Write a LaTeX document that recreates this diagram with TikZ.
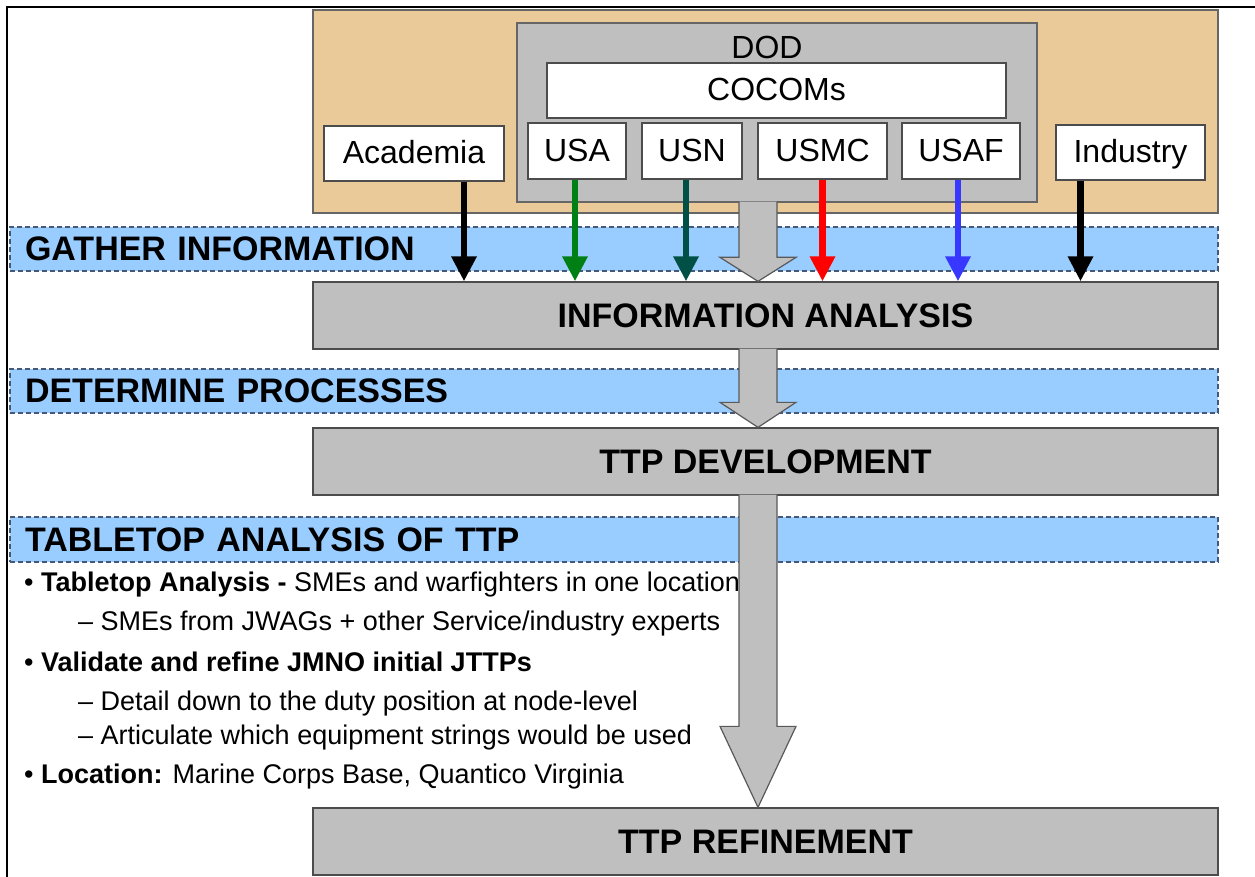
\documentclass[tikz,border=0pt]{standalone}
\usepackage{fontspec}
\setmainfont{Liberation Sans}
\usetikzlibrary{arrows.meta,calc}
\definecolor{sand}{RGB}{233,202,152}
\definecolor{procgray}{RGB}{191,191,191}
\definecolor{bandblue}{RGB}{153,204,255}
\definecolor{banddash}{RGB}{70,88,120}
\definecolor{armygreen}{RGB}{0,128,20}
\definecolor{navyteal}{RGB}{0,80,70}
\definecolor{afblue}{RGB}{55,55,255}
\tikzset{
  sandbox/.style={draw=black!60, line width=1.3pt, fill=sand, inner sep=0pt},
  dodbox/.style={draw=black!60, line width=1.3pt, fill=procgray, inner sep=0pt},
  box/.style={draw=black!70, line width=1.3pt, fill=white, inner sep=0pt,
    text height=25pt, text depth=4pt, font=\fontsize{32}{36}\selectfont},
  lbl/.style={inner sep=0pt, font=\fontsize{32}{36}\selectfont},
  band/.style={draw=banddash, line width=1.3pt, dash pattern=on 5pt off 3pt,
    fill=bandblue, inner xsep=15pt, inner ysep=0pt, text width=1178pt, align=left,
    minimum height=44pt, font=\fontsize{34}{38}\selectfont\bfseries},
  proc/.style={draw=black!70, line width=1.3pt, fill=procgray, inner sep=0pt,
    minimum width=905pt, minimum height=67pt, font=\fontsize{34}{38}\selectfont\bfseries},
  note/.style={anchor=base west, inner sep=0pt, font=\fontsize{27}{30}\selectfont},
  feed/.style={line width=6.5pt, -{Triangle[width=24pt,length=25pt]}},
  fat/.style={draw=black!65, line width=1.2pt, fill=procgray}
}
% fat gray arrow down the spine: top, bottom, head length
\newcommand{\fatarrow}[3]{%
  \filldraw[fat] ($(spine |- #1)+(-19,-1)$) -- ($(spine |- #2)+(-19,-#3)$)
    -- ($(spine |- #2)+(-38,-#3)$) -- (spine |- #2) -- ($(spine |- #2)+(38,-#3)$)
    -- ($(spine |- #2)+(19,-#3)$) -- ($(spine |- #1)+(19,-1)$);}

\begin{document}
\begin{tikzpicture}[x=1pt,y=-1pt]
  \useasboundingbox (0,0) rectangle (1255,877);
  \draw[line width=2.5pt] (1255,7) -- (7,7) -- (7,877);

  \draw
    (765.5,111.5) node[sandbox, minimum width=905pt, minimum height=203pt](src){}
    (777,112.5) node[dodbox, minimum width=520pt, minimum height=179pt](dod){}
    (767,47) node[lbl](dodtxt){DOD}
    (776.5,90.5) node[box, minimum width=459pt, minimum height=55pt](cocom){COCOMs}
    (414,153.5) node[box, minimum width=180pt, minimum height=55pt](acad){Academia}
    (577,151) node[box, minimum width=98pt, minimum height=56pt](usa){USA}
    (692,151) node[box, minimum width=100pt, minimum height=56pt](usn){USN}
    (822.5,151) node[box, minimum width=129pt, minimum height=56pt](usmc){USMC}
    (961,151) node[box, minimum width=118pt, minimum height=56pt](usaf){USAF}
    (1130.5,152.5) node[box, minimum width=149pt, minimum height=55pt](ind){Industry};

  \draw
    (614,249) node[band](gather){GATHER INFORMATION}
    (765.5,315.5) node[proc](info){INFORMATION ANALYSIS}
    (614,391) node[band](determine){DETERMINE PROCESSES}
    (765.5,461.5) node[proc](dev){TTP DEVELOPMENT}
    (614,539.5) node[band, minimum height=45pt](tabletop){TABLETOP ANALYSIS OF TTP}
    (765.5,841.5) node[proc](refine){TTP REFINEMENT};

  \draw
    (24,591) node[note](tt1){• \textbf{Tabletop Analysis -} SMEs and warfighters in one location}
    (78,630) node[note](tt2){– SMEs from JWAGs + other Service/industry experts}
    (24,671) node[note](tt3){• \textbf{Validate and refine JMNO initial JTTPs}}
    (78,710) node[note](tt4){– Detail down to the duty position at node-level}
    (78,744) node[note](tt5){– Articulate which equipment strings would be used}
    (24,783) node[note](tt6){• \textbf{Location:} Marine Corps Base, Quantico Virginia};

  \coordinate (acadout) at ($(acad.south)+(50,0)$);
  \coordinate (usaout) at ($(usa.south)+(-2,0)$);
  \coordinate (usnout) at ($(usn.south)+(-6,0)$);
  \coordinate (usafout) at ($(usaf.south)+(-3,0)$);
  \coordinate (indout) at ($(ind.south)+(-50,0)$);
  \coordinate (spine) at (758,0);

  \path[feed] (acadout) edge (acadout |- info.north)
              (usaout) edge[draw=armygreen] (usaout |- info.north)
              (usnout) edge[draw=navyteal] (usnout |- info.north)
              (usmc.south) edge[draw=red] (usmc.south |- info.north)
              (usafout) edge[draw=afblue] (usafout |- info.north)
              (indout) edge (indout |- info.north);

  \fatarrow{dod.south}{info.north}{24}
  \fatarrow{info.south}{dev.north}{25}
  \fatarrow{dev.south}{refine.north}{81}
\end{tikzpicture}
\end{document}
